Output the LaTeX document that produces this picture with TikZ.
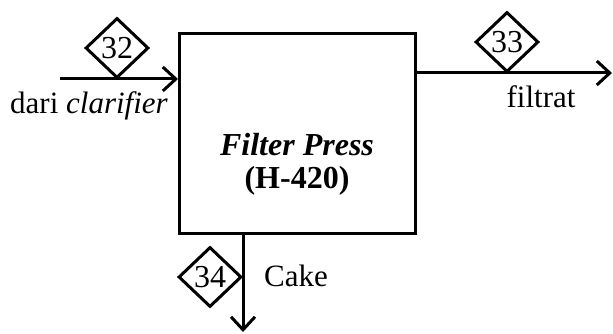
\documentclass[tikz,border=0pt]{standalone}
\usepackage{fontspec}
\setmainfont{Liberation Serif}
\usetikzlibrary{arrows.meta,shapes.geometric}
\begin{document}
\begin{tikzpicture}[x=1pt,y=-1pt,
  flow/.style={line width=3pt,-{Straight Barb[length=13pt,width=24pt,line width=3pt]}},
  streamtag/.style={diamond,draw,line width=3pt,minimum width=63pt,minimum height=60pt,inner sep=0pt,
    font=\fontsize{32}{36}\selectfont},
  lbl/.style={font=\fontsize{31}{36}\selectfont,inner sep=0pt}]
  \useasboundingbox (0,0) rectangle (613,334);
  % filter press unit
  \node[draw,line width=3pt,minimum width=236pt,minimum height=200pt,inner sep=0pt,anchor=north west] (fp) at (178,32) {};
  \node[font=\fontsize{32}{36}\selectfont\bfseries\itshape,inner sep=0pt] (fpname) at (297,145) {Filter Press};
  \node[font=\fontsize{32}{36}\selectfont\bfseries,inner sep=0pt] (fpcode) at (297,181) {(H-420)};
  % feed from clarifier
  \coordinate (feed) at (60,79);
  \draw[flow] (feed) -- (fp.west |- feed);
  \node[streamtag] (s32) at (117,48) {32};
  \node[lbl] (feedlbl) at (89,106) {dari \textit{clarifier}};
  % filtrate out
  \coordinate (filtout) at (612,73);
  \draw[flow] (fp.east |- filtout) -- (filtout);
  \node[streamtag] (s33) at (507,42) {33};
  \node[lbl] (filtlbl) at (541,97) {filtrat};
  % cake out
  \coordinate (cakeout) at (243,332);
  \draw[flow] (fp.south -| cakeout) -- (cakeout);
  \node[streamtag] (s34) at (210,277) {34};
  \node[lbl,anchor=west] (cakelbl) at (264,276) {Cake};
\end{tikzpicture}
\end{document}
